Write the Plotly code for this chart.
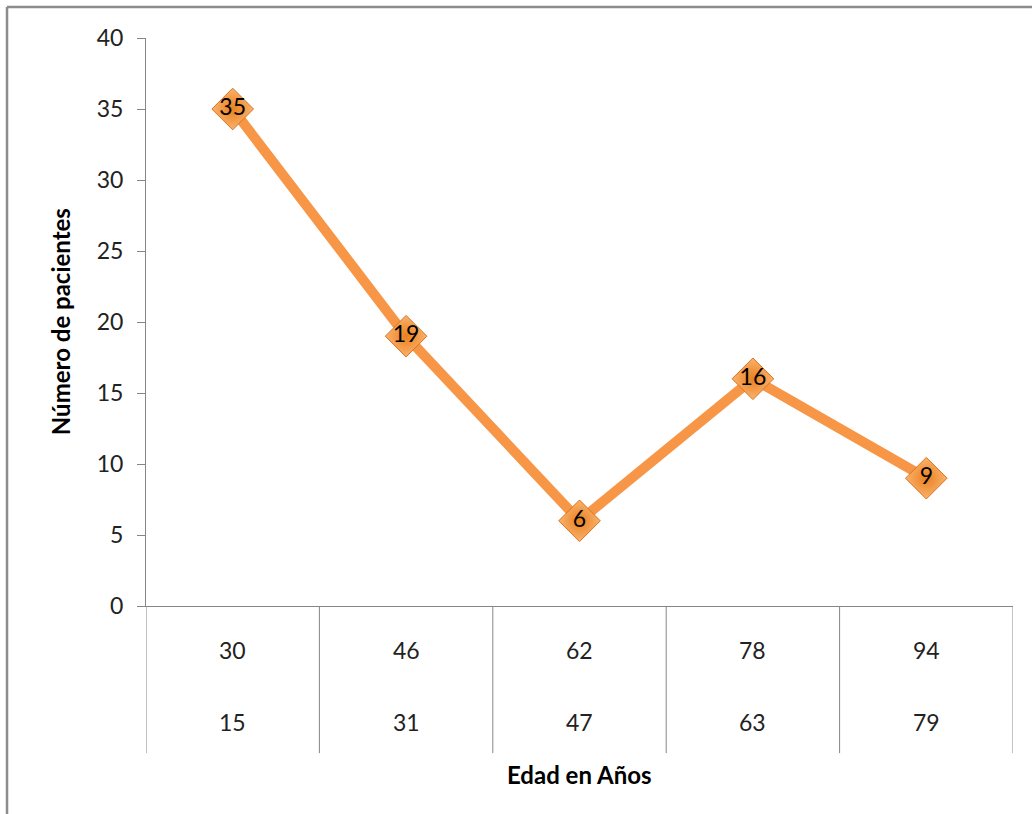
import plotly.graph_objects as go

# Age groups (upper and lower bound of each bin) and patient counts
edad_sup = ["30", "46", "62", "78", "94"]
edad_inf = ["15", "31", "47", "63", "79"]
pacientes = [35, 19, 6, 16, 9]

y_ticks = [0, 5, 10, 15, 20, 25, 30, 35, 40]

FONT = "Lato"
GRAY = "#868686"
ORANGE = "#F79646"
TICK_SIZE = 23
TITLE_SIZE = 24

x_pos = list(range(len(pacientes)))

fig = go.Figure()

fig.add_trace(go.Scatter(
    x=x_pos,
    y=pacientes,
    mode="lines+markers+text",
    line=dict(color=ORANGE, width=10),
    marker=dict(
        symbol="diamond",
        size=32,
        color="#FBB26E",
        gradient=dict(type="radial", color="#E8801F"),
        line=dict(color="#D9731A", width=1),
    ),
    text=[str(v) for v in pacientes],
    textposition="middle center",
    textfont=dict(family=FONT, size=23, color="#000000"),
    showlegend=False,
    hoverinfo="skip",
))

# Two-row category labels beneath the axis
row1_y = -0.0775
row2_y = -0.204
for i in x_pos:
    fig.add_annotation(x=i, y=row1_y, xref="x", yref="paper", text=edad_sup[i],
                       showarrow=False, font=dict(family=FONT, size=TICK_SIZE, color="#222222"),
                       xanchor="center", yanchor="middle")
    fig.add_annotation(x=i, y=row2_y, xref="x", yref="paper", text=edad_inf[i],
                       showarrow=False, font=dict(family=FONT, size=TICK_SIZE, color="#222222"),
                       xanchor="center", yanchor="middle")

# Column separators of the category table
for i in range(len(pacientes) + 1):
    fig.add_shape(type="line", x0=i - 0.5, x1=i - 0.5, y0=0, y1=-0.259,
                  xref="x", yref="paper", line=dict(color=GRAY, width=1))

# Chart frame (left and top edges)
fig.add_shape(type="line", xref="paper", yref="paper", x0=-0.1603, x1=-0.1603,
              y0=-0.37, y1=1.0546, line=dict(color="#8C8C8C", width=2.5))
fig.add_shape(type="line", xref="paper", yref="paper", x0=-0.1603, x1=1.03,
              y0=1.0546, y1=1.0546, line=dict(color="#8C8C8C", width=2.5))

fig.add_annotation(text="<b>Edad en Años</b>", xref="paper", yref="paper",
                   x=0.5, y=-0.2975, showarrow=False,
                   font=dict(family=FONT, size=TITLE_SIZE, color="#000000"),
                   xanchor="center", yanchor="middle")
fig.add_annotation(text="<b>Número de pacientes</b>", xref="paper", yref="paper",
                   x=-0.099, y=0.5, showarrow=False, textangle=-90,
                   font=dict(family=FONT, size=TITLE_SIZE, color="#000000"),
                   xanchor="center", yanchor="middle")

fig.update_layout(
    width=1032,
    height=814,
    margin=dict(l=146, r=19, t=38, b=208),
    paper_bgcolor="white",
    plot_bgcolor="white",
    xaxis=dict(
        range=[-0.5, len(pacientes) - 0.5],
        showgrid=False, zeroline=False,
        showline=True, linecolor=GRAY, linewidth=1,
        showticklabels=False, ticks="",
        fixedrange=True,
    ),
    yaxis=dict(
        range=[0, 40],
        tickvals=y_ticks,
        ticktext=[str(v) for v in y_ticks],
        showgrid=False, zeroline=False,
        showline=True, linecolor=GRAY, linewidth=1,
        ticks="outside", ticklen=8, tickcolor=GRAY,
        ticklabelstandoff=9,
        tickfont=dict(family=FONT, size=TICK_SIZE, color="#222222"),
        fixedrange=True,
    ),
)

fig.write_html("out.html")
